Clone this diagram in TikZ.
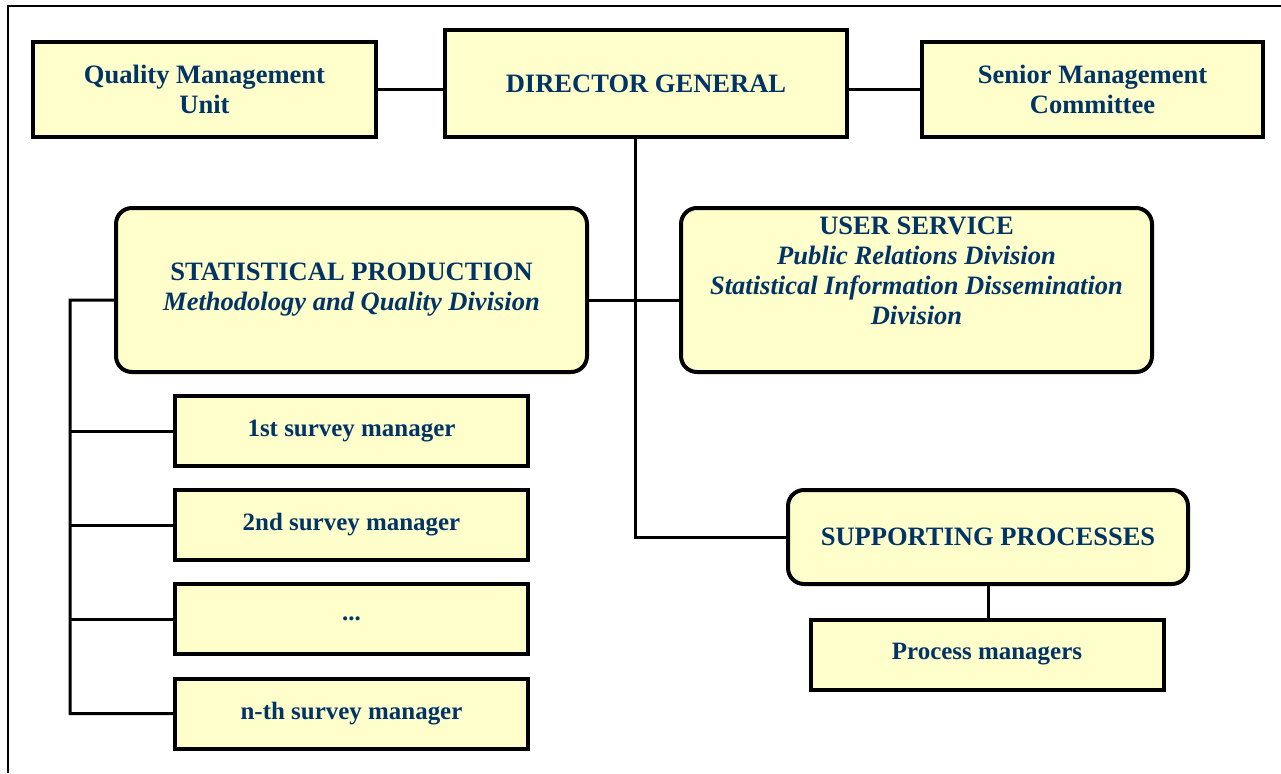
\documentclass[tikz,border=0pt]{standalone}
\usepackage{fontspec}
\setmainfont{Liberation Serif}
\definecolor{boxfill}{RGB}{255,255,204}
\definecolor{boxtext}{RGB}{0,51,102}
\tikzset{inner sep=0pt}

\begin{document}
\begin{tikzpicture}[
            x=0.1mm, y=-0.1mm,
            unit/.style={draw,line width=0.4mm,fill=boxfill,text=boxtext,align=center,
                font=\fontsize{7.55}{8.5}\selectfont\bfseries},
            division/.style={unit,rounded corners=1.6mm},
            manager/.style={unit,minimum width=35.3mm,minimum height=7mm,
                font=\fontsize{7.1}{8.5}\selectfont\bfseries},
            link/.style={draw,line width=0.3mm}
            ]
            \useasboundingbox (0,0) rectangle (1281,773);
            \draw[line width=0.2mm] (8,773) -- (8,6) -- (1281,6);
            % top row
            \node[unit,minimum width=34.3mm,minimum height=9.5mm] (qmu) at (204.5,89.5) {Quality Management\\Unit};
            \node[unit,minimum width=40.2mm,minimum height=10.7mm] (dg) at (646,83.5) {DIRECTOR GENERAL};
            \node[unit,minimum width=34.1mm,minimum height=9.5mm] (smc) at (1092.5,89.5) {Senior Management\\Committee};
            % divisions
            \node[division,minimum width=47.1mm,minimum height=16.4mm] (stat) at (351.5,290)
                {STATISTICAL PRODUCTION\\\textit{Methodology and Quality Division}};
            \node[division,minimum width=47.1mm,minimum height=16.4mm] (user) at (916.5,290)
                {USER SERVICE\\\textit{Public Relations Division}\\\textit{Statistical Information Dissemination}\\\textit{Division}\\\strut};
            \node[division,minimum width=40mm,minimum height=9.4mm] (supp) at (988,537) {SUPPORTING PROCESSES};
            % managers
            \node[manager] (s1) at (351.5,431) {1st survey manager};
            \node[manager] (s2) at (351.5,525) {2nd survey manager};
            \node[manager] (s3) at (351.5,619) {...};
            \node[manager] (s4) at (351.5,713.5) {n-th survey manager};
            \node[manager] (pm) at (987,654.5) {Process managers};
            % connectors
            \coordinate (dgfoot) at ([xshift=-1.1mm]dg.south);
            \coordinate (bus) at (70,300);
            \draw[link] (qmu.east) -- (qmu.east -| dg.west);
            \draw[link] (smc.west -| dg.east) -- (smc.west);
            \draw[link] (dgfoot) |- (supp.west);
            \draw[link] ([yshift=-1mm]stat.east) -- ([yshift=-1mm]stat.east -| user.west);
            \draw[link] ([yshift=-1mm]stat.west) -- (bus) |- (s4.west);
            \draw[link] (bus |- s1.west) -- (s1.west);
            \draw[link] (bus |- s2.west) -- (s2.west);
            \draw[link] (bus |- s3.west) -- (s3.west);
            \draw[link] (supp.south) -- (supp.south |- pm.north);
\end{tikzpicture}
\end{document}
